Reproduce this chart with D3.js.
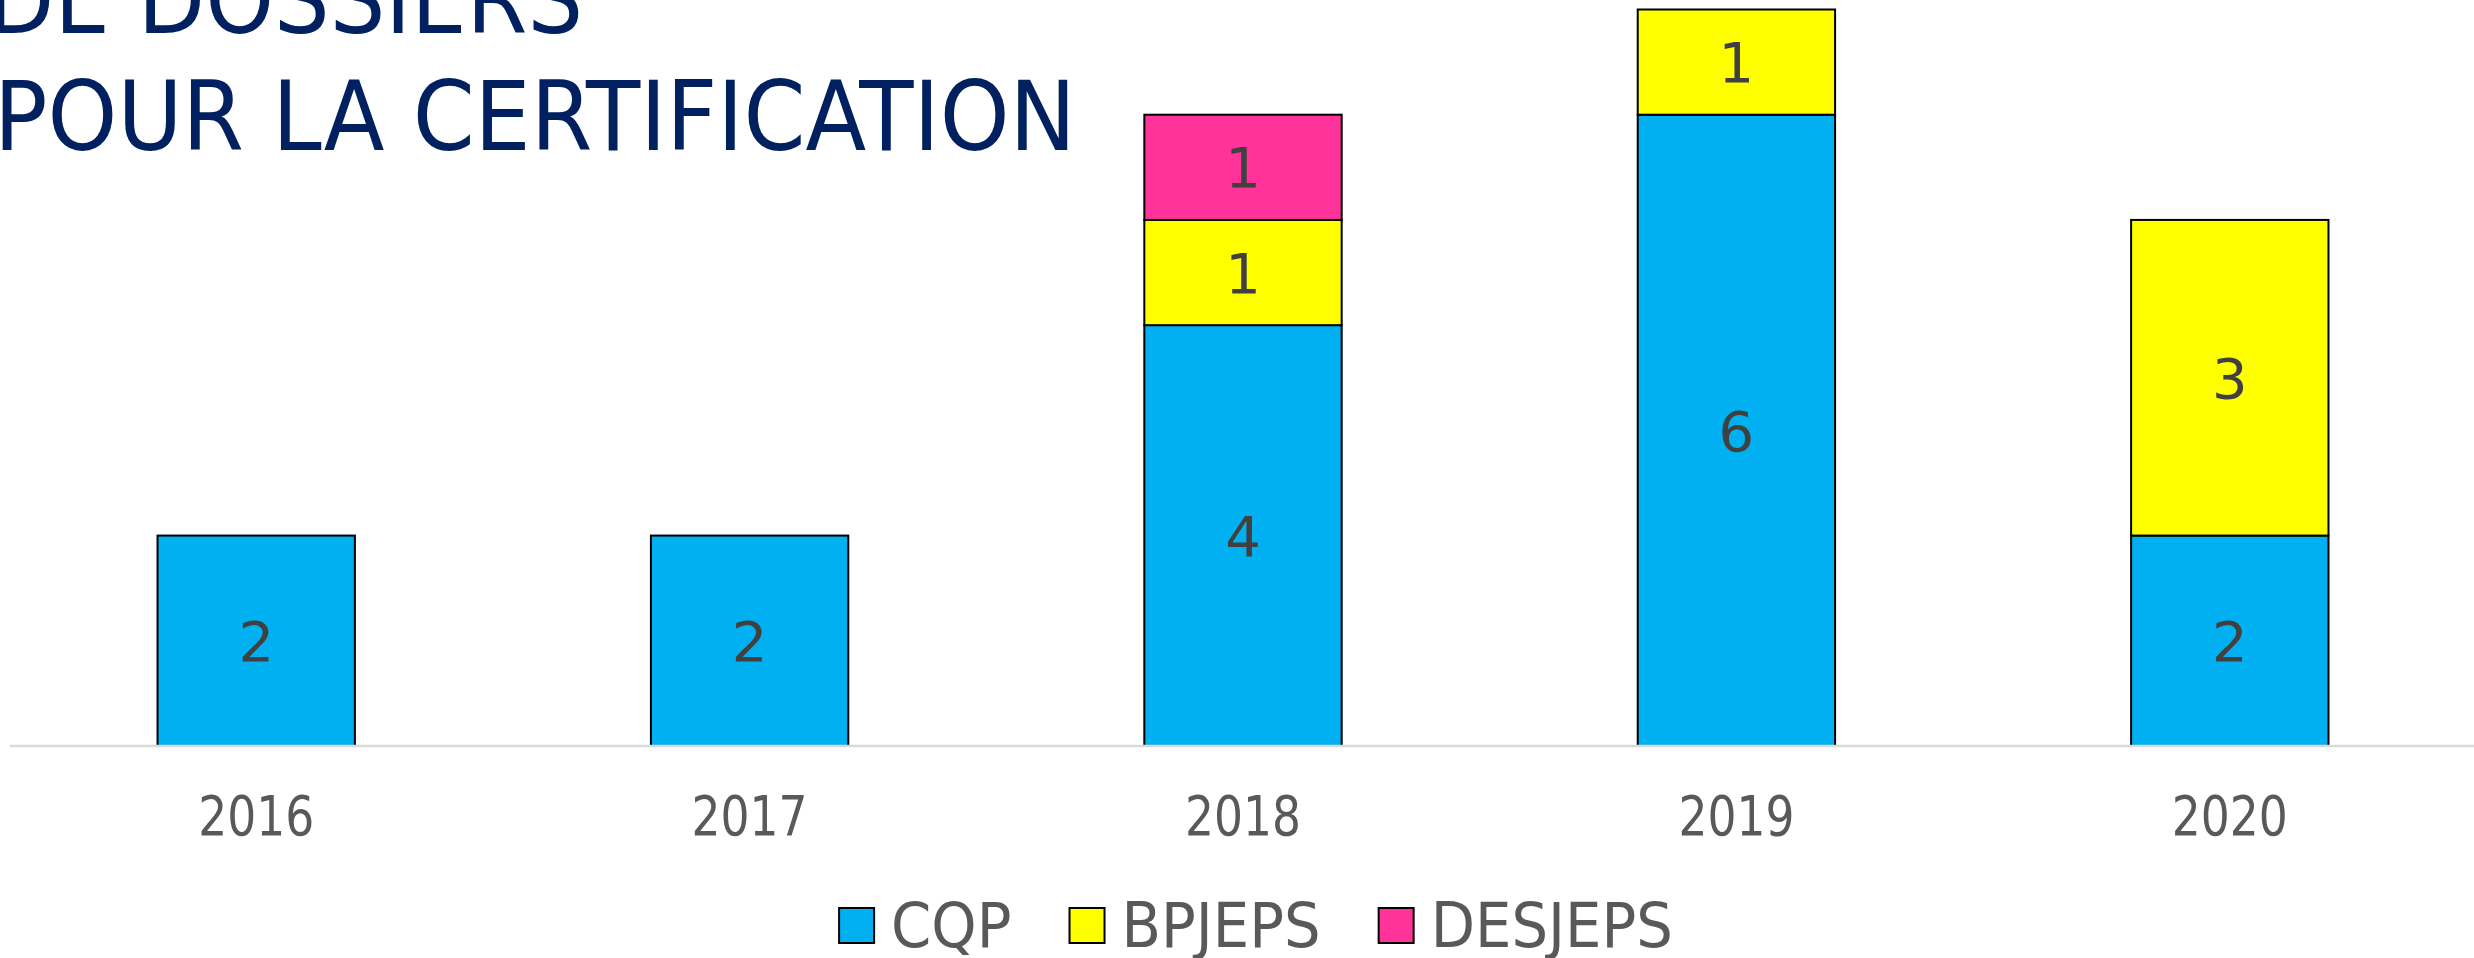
<!DOCTYPE html>
<html lang="fr">
<head>
    <meta charset="UTF-8">
    <script type="text/javascript" src="https://cdn.jsdelivr.net/npm/d3@7/dist/d3.min.js"></script>
    <title>Dossiers pour la certification</title>
    <style>
        body { margin: 0; background: #fff; overflow: hidden; }
        text { font-family: "DejaVu Sans", sans-serif; }
    </style>
</head>
<body>

</body>
<script>
    let years = ["2016", "2017", "2018", "2019", "2020"];
    let seriesNames = ["CQP", "BPJEPS", "DESJEPS"];
    let cqp = [2, 2, 4, 6, 2];
    let bpjeps = [0, 0, 1, 1, 3];
    let desjeps = [0, 0, 1, 0, 0];
    let colors = ["#00B0F0", "#FFFF00", "#FF3399"];
    let titleLines = ["DE DOSSIERS", "POUR LA CERTIFICATION"];

    let width = 2474, height = 958;
    let baseY = 746;

    let svg = d3.select("body")
        .append("svg")
        .attr("width", width)
        .attr("height", height)

    // table pour d3.stack
    let table = years.map((y, i) => ({year: y, CQP: cqp[i], BPJEPS: bpjeps[i], DESJEPS: desjeps[i]}))
    let stacked = d3.stack().keys(seriesNames)(table)

    // échelles
    let xScale = d3.scaleBand()
        .domain(years)
        .range([9.5, 2476.5])
        .paddingInner(0.6)
        .paddingOuter(0.3)

    let yScale = d3.scaleLinear()
        .domain([0, 7])
        .range([baseY, 9.5])

    let colorScale = d3.scaleOrdinal()
        .domain(seriesNames)
        .range(colors)

    // barres
    let layers = svg.selectAll(".layer")
        .data(stacked)
        .enter()
        .append("g")
        .attr("class", "layer")
        .attr("fill", d => colorScale(d.key))

    layers.selectAll("rect")
        .data(d => d.filter(p => p[1] - p[0] > 0))
        .enter()
        .append("rect")
        .attr("x", d => xScale(d.data.year))
        .attr("y", d => yScale(d[1]))
        .attr("width", xScale.bandwidth())
        .attr("height", d => yScale(d[0]) - yScale(d[1]))
        .attr("stroke", "#000")
        .attr("stroke-width", 2)

    // étiquettes de valeurs
    layers.selectAll("text")
        .data(d => d.filter(p => p[1] - p[0] > 0))
        .enter()
        .append("text")
        .attr("x", d => xScale(d.data.year) + xScale.bandwidth() / 2)
        .attr("y", d => (yScale(d[0]) + yScale(d[1])) / 2)
        .attr("dy", "0.36em")
        .attr("text-anchor", "middle")
        .attr("font-size", 56)
        .attr("fill", "#404040")
        .text(d => d[1] - d[0])

    // axe horizontal
    let xAxis = d3.axisBottom(xScale).tickSize(0).tickPadding(50)

    let axisG = svg.append("g")
        .attr("transform", "translate(0," + baseY + ")")
        .call(xAxis)

    axisG.select(".domain")
        .attr("d", "M10,0H" + width)
        .attr("stroke", "#d9d9d9")
        .attr("stroke-width", 2.5)

    axisG.selectAll(".tick text")
        .attr("font-size", 55)
        .attr("font-family", null)
        .attr("fill", "#595959")
        .attr("dy", "0.71em")
        .attr("y", 50)
        .attr("textLength", 116)
        .attr("lengthAdjust", "spacingAndGlyphs")

    // titre (coupé en haut)
    svg.selectAll(".title")
        .data(titleLines)
        .enter()
        .append("text")
        .attr("class", "title")
        .attr("x", (d, i) => i === 0 ? -13 : -6)
        .attr("y", (d, i) => i === 0 ? 33 : 150)
        .attr("font-size", 97)
        .attr("fill", "#002060")
        .attr("textLength", (d, i) => i === 0 ? 596 : 1082)
        .attr("lengthAdjust", "spacingAndGlyphs")
        .text(d => d)

    // légende
    let legend = svg.append("g")
    let lx = 0
    seriesNames.forEach((name, i) => {
        let g = legend.append("g").attr("transform", "translate(" + lx + ",0)")
        g.append("rect")
            .attr("x", 0)
            .attr("y", 908)
            .attr("width", 35)
            .attr("height", 35)
            .attr("fill", colors[i])
            .attr("stroke", "#000")
            .attr("stroke-width", 2)
        let t = g.append("text")
            .attr("x", 52)
            .attr("y", 947)
            .attr("font-size", 62)
            .attr("fill", "#595959")
            .text(name)
        let w = t.node().getComputedTextLength() * 0.93
        t.attr("textLength", w).attr("lengthAdjust", "spacingAndGlyphs")
        lx += 52 + w + 58
    })
    let legendWidth = lx - 58
    legend.attr("transform", "translate(" + (1256 - legendWidth / 2) + ",0)")
</script>
</html>
